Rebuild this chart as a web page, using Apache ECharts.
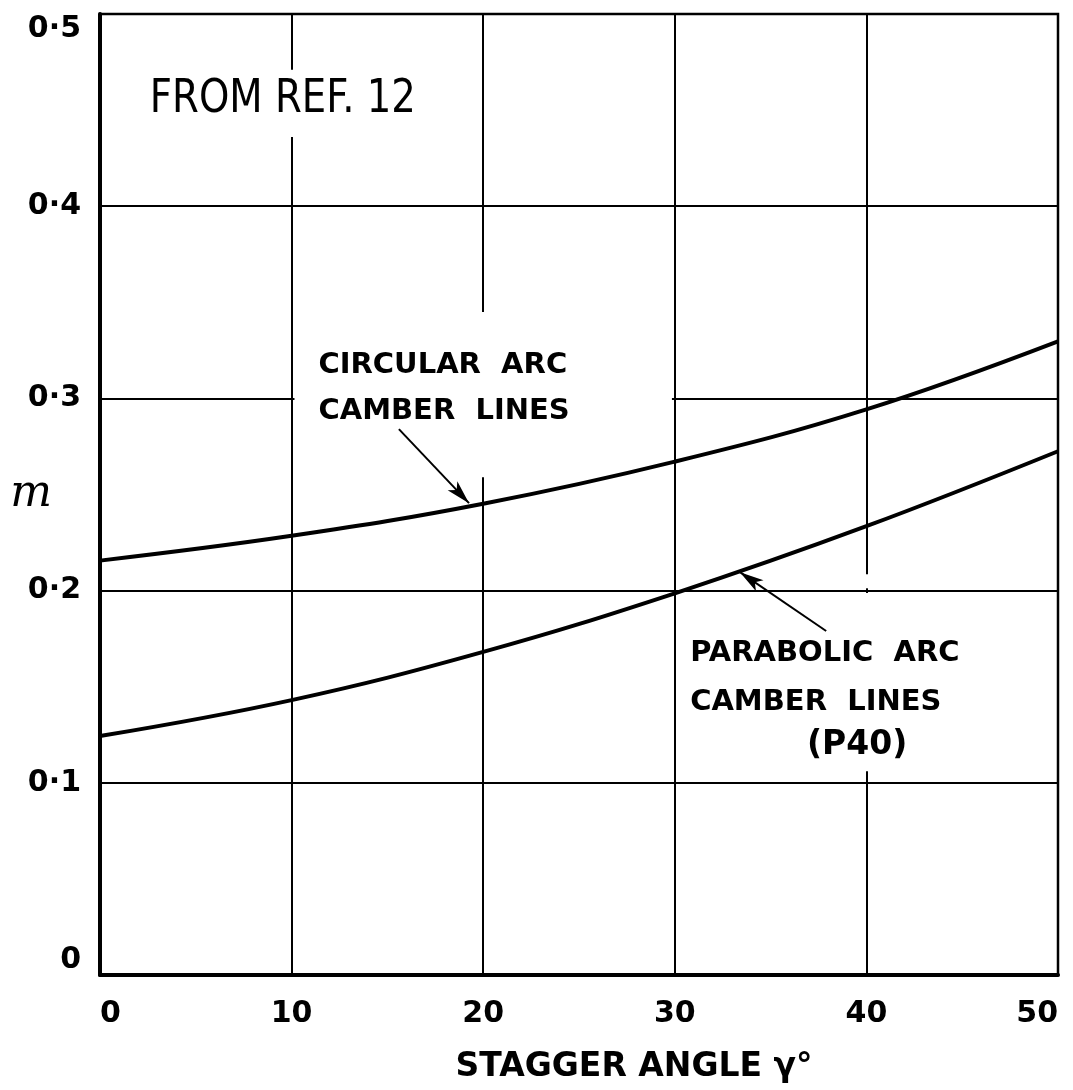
<!DOCTYPE html>
<html>
<head>
<meta charset="utf-8">
<script src="https://cdn.jsdelivr.net/npm/echarts@6/dist/echarts.min.js"></script>
<style>
  html, body { margin: 0; padding: 0; background: #fff; }
  #cht { width: 1073px; height: 1090px; }
</style>
</head>
<body>
<div id="cht"></div>
<script>
const chart = echarts.init(document.getElementById('cht'));

// stagger angle (deg)
const stagger = [0, 10, 20, 30, 40, 50];
// m values
const circularArc = [0.2156, 0.2285, 0.2452, 0.2671, 0.2943, 0.3297];
const parabolicArc = [0.1243, 0.143, 0.1681, 0.1986, 0.2335, 0.2725];

const yTickLabels = ['0', '0·1', '0·2', '0·3', '0·4', '0·5'];
const xTickLabels = ['0', '10', '20', '30', '40', '50'];

// pointers from the notes to the curves [from, to] in data coords
const circArrow = [[15.6, 0.284], [19.26, 0.2455]];
const paraArrow = [[37.9, 0.179], [33.4, 0.2096]];

// places where the grid lines are broken in the drawing
const gridGaps = [
  [[2.5, 0.436], [16.5, 0.471]],
  [[10.15, 0.294], [29.85, 0.306]],
  [[19.5, 0.259], [20.5, 0.345]],
  [[39.6, 0.2012], [40.4, 0.2085]],
  [[39.6, 0.106], [40.4, 0.1988]]
];

const ink = '#000';
const lettering = 'DejaVu Sans';

const toPairs = (ys) => stagger.map((x, i) => [x, ys[i]]);

const option = {
  animation: false,
  backgroundColor: '#fff',
  grid: {
    left: 100,
    right: 15,
    top: 14,
    bottom: 115,
    containLabel: false,
    outerBoundsMode: 'none',
    show: true,
    borderColor: ink,
    borderWidth: 2.5
  },
  xAxis: {
    type: 'value',
    min: 0,
    max: 50,
    interval: 10,
    name: 'STAGGER ANGLE γ°',
    nameLocation: 'middle',
    nameGap: 76,
    nameMoveOverlap: false,
    nameTextStyle: {
      color: ink, fontSize: 33, fontWeight: 'bold', fontFamily: lettering,
      padding: [0, 0, 0, 110]
    },
    axisLine: { show: true, lineStyle: { color: ink, width: 4 } },
    axisTick: { show: false },
    axisLabel: {
      color: ink, fontSize: 30, fontWeight: 'bold', fontFamily: lettering, margin: 24,
      alignMinLabel: 'left',
      alignMaxLabel: 'right',
      formatter: (v) => xTickLabels[Math.round(v / 10)]
    },
    splitLine: { show: true, lineStyle: { color: ink, width: 2 } }
  },
  yAxis: {
    type: 'value',
    min: 0,
    max: 0.5,
    interval: 0.1,
    name: 'm',
    nameLocation: 'middle',
    nameRotate: 0,
    nameGap: 48,
    nameMoveOverlap: false,
    nameTextStyle: { color: ink, fontSize: 44, fontStyle: 'italic', fontFamily: 'DejaVu Serif' },
    axisLine: { show: true, lineStyle: { color: ink, width: 4 } },
    axisTick: { show: false },
    axisLabel: {
      color: ink, fontSize: 30, fontWeight: 'bold', fontFamily: lettering, margin: 19,
      verticalAlignMinLabel: 'bottom',
      verticalAlignMaxLabel: 'top',
      formatter: (v) => yTickLabels[Math.round(v * 10)]
    },
    splitLine: { show: true, lineStyle: { color: ink, width: 2 } }
  },
  series: [
    {
      name: 'Circular arc camber lines',
      type: 'line',
      data: toPairs(circularArc),
      smooth: 0.4,
      symbol: 'none',
      lineStyle: { color: ink, width: 4 },
      markLine: {
        silent: true,
        symbol: ['none', 'arrow'],
        symbolSize: [10, 24],
        label: { show: false },
        lineStyle: { color: ink, width: 2, type: 'solid' },
        data: [[{ coord: circArrow[0] }, { coord: circArrow[1] }]]
      },
      markArea: {
        silent: true,
        itemStyle: { color: '#fff', opacity: 1 },
        data: gridGaps.map(([a, b]) => [{ coord: a }, { coord: b }])
      }
    },
    {
      name: 'Parabolic arc camber lines (P40)',
      type: 'line',
      data: toPairs(parabolicArc),
      smooth: 0.4,
      symbol: 'none',
      lineStyle: { color: ink, width: 4 },
      markLine: {
        silent: true,
        symbol: ['none', 'arrow'],
        symbolSize: [10, 24],
        label: { show: false },
        lineStyle: { color: ink, width: 2, type: 'solid' },
        data: [[{ coord: paraArrow[0] }, { coord: paraArrow[1] }]]
      }
    }
  ]
};

chart.setOption(option);

// notes written on the chart, anchored in data coords
const notes = [
  { text: 'FROM REF. 12', at: [2.6, 0.455], size: 46, weight: 'normal', squeeze: 0.84 },
  { text: 'CIRCULAR  ARC', at: [11.4, 0.317], size: 29, weight: 'bold', squeeze: 1 },
  { text: 'CAMBER  LINES', at: [11.4, 0.2933], size: 29, weight: 'bold', squeeze: 1 },
  { text: 'PARABOLIC  ARC', at: [30.8, 0.1674], size: 29, weight: 'bold', squeeze: 1 },
  { text: 'CAMBER  LINES', at: [30.8, 0.142], size: 29, weight: 'bold', squeeze: 1 },
  { text: '(P40)', at: [36.9, 0.1196], size: 33, weight: 'bold', squeeze: 1 }
];

chart.setOption({
  graphic: notes.map((n) => {
    const p = chart.convertToPixel({ gridIndex: 0 }, n.at);
    return {
      type: 'text',
      x: p[0],
      y: p[1],
      scaleX: n.squeeze,
      z: 100,
      style: {
        text: n.text,
        fill: ink,
        font: n.weight + ' ' + n.size + 'px "' + lettering + '"',
        textAlign: 'left',
        textVerticalAlign: 'middle'
      }
    };
  })
});

window.onresize = () => chart.resize();
</script>
</body>
</html>
